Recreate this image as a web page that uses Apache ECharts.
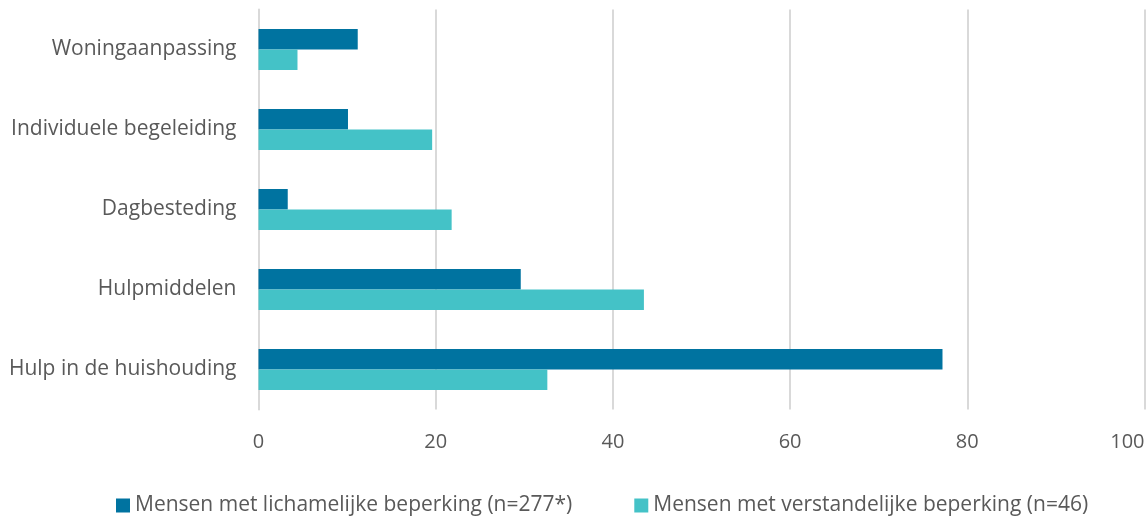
<!DOCTYPE html>
<html>
<head>
<meta charset="utf-8">
<script src="https://cdn.jsdelivr.net/npm/echarts@6/dist/echarts.min.js"></script>
<style>
  html, body { margin: 0; padding: 0; background: #fff; }
  #chart { width: 1148px; height: 517px; }
</style>
</head>
<body>
<div id="chart"></div>
<script>
// categories from bottom to top (as drawn)
const categories = ['Hulp in de huishouding', 'Hulpmiddelen', 'Dagbesteding', 'Individuele begeleiding', 'Woningaanpassing']
const lichamelijk = [77.2, 29.6, 3.3, 10.1, 11.2]
const verstandelijk = [32.6, 43.5, 21.8, 19.6, 4.4]
const seriesNames = ['Mensen met lichamelijke beperking (n=277*)', 'Mensen met verstandelijke beperking (n=46)']

const font = 'Open Sans'
const textColor = '#595959'

const chart = echarts.init(document.getElementById('chart'))
const option = {
  animation: false,
  textStyle: { fontFamily: font },
  grid: {
    left: 258.5,
    right: 3.5,
    top: 9.5,
    height: 400,
    containLabel: false,
    outerBoundsMode: 'none'
  },
  legend: {
    left: 116,
    top: 495,
    padding: 0,
    itemWidth: 14,
    itemHeight: 14,
    itemGap: 62,
    icon: 'rect',
    textStyle: { fontSize: 21, color: textColor, fontFamily: font },
    data: seriesNames
  },
  xAxis: {
    type: 'value',
    min: 0,
    max: 100,
    interval: 20,
    axisLine: { show: false },
    axisTick: { show: false },
    axisLabel: { fontSize: 20, color: textColor, margin: 23, fontFamily: font, alignMaxLabel: 'right' },
    splitLine: { lineStyle: { color: '#d9d9d9', width: 2 } }
  },
  yAxis: {
    type: 'category',
    data: categories,
    axisLine: { lineStyle: { color: '#d9d9d9', width: 2 } },
    axisTick: { show: false },
    axisLabel: { fontSize: 21, color: textColor, margin: 22, fontFamily: font }
  },
  series: [
    {
      name: seriesNames[0],
      type: 'bar',
      data: lichamelijk,
      itemStyle: { color: '#0073a0' },
      barGap: '0%',
      barCategoryGap: '48.75%'
    },
    {
      name: seriesNames[1],
      type: 'bar',
      data: verstandelijk,
      itemStyle: { color: '#44c2c7' },
      barGap: '0%',
      barCategoryGap: '48.75%'
    }
  ]
}
chart.setOption(option)
</script>
</body>
</html>
